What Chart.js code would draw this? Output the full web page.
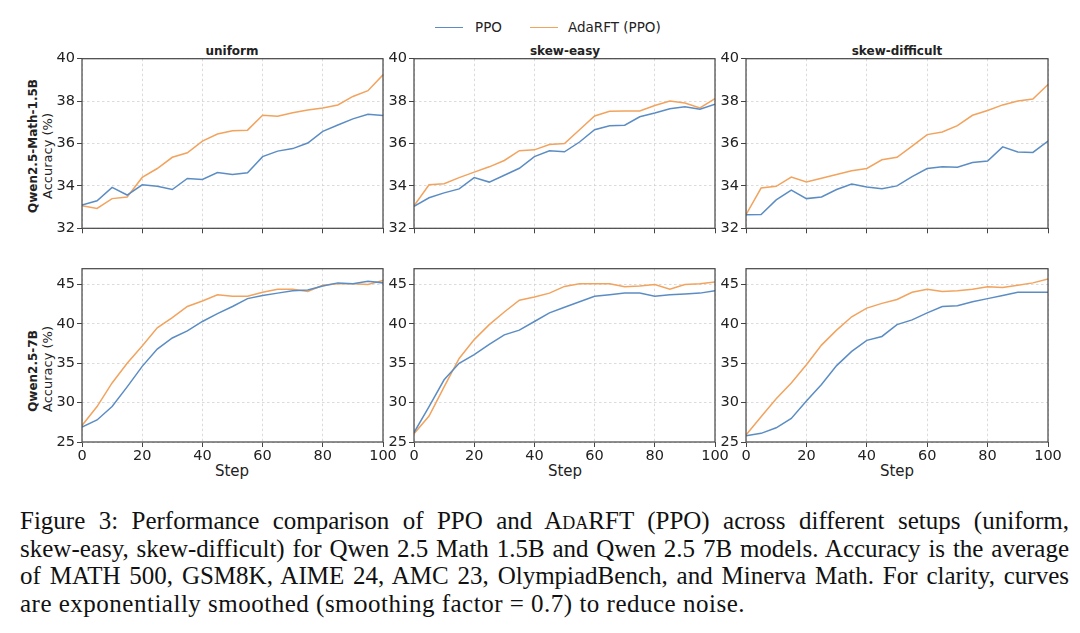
<!DOCTYPE html>
<html>
<head>
<meta charset="utf-8">
<script src="https://cdn.jsdelivr.net/npm/chart.js@4.4.1/dist/chart.umd.min.js"></script>
<style>
  body { margin: 0; width: 1080px; height: 633px; background: #fff; position: relative; overflow: hidden;
         font-family: "DejaVu Sans", sans-serif; color: #222; }
  canvas { position: absolute; }
  .lbl { position: absolute; white-space: nowrap; transform: translate(-50%, -50%); }
  .rot { transform: translate(-50%, -50%) rotate(-90deg); }
  .ttl { font-weight: bold; font-size: 12px; }
  .legend { position: absolute; top: 18px; left: 435px; font-size: 13.5px; height: 18px; }
  .legend span { position: absolute; top: 0; line-height: 18px; white-space: nowrap; }
  .legend i { position: absolute; top: 9px; width: 28px; border-top: 1.5px solid; }
  .caption { position: absolute; left: 20px; top: 507px; width: 1049px; font-family: "Liberation Serif", serif;
             font-size: 25px; line-height: 27.6px; color: #111; }
  .caption div { white-space: nowrap; }
  .caption .j { text-align: justify; text-align-last: justify; word-spacing: -2.6px; }
  .caption .last { letter-spacing: 0.5px; }
  .sc { font-variant: small-caps; }
</style>
</head>
<body>

<div class="legend">
  <i style="left:0; border-color:#5b8dc4"></i><span style="left:40px">PPO</span>
  <i style="left:95px; border-color:#f2a35e"></i><span style="left:133px">AdaRFT (PPO)</span>
</div>

<div class="lbl ttl" style="left:232px; top:51px">uniform</div>
<div class="lbl ttl" style="left:565px; top:51px">skew-easy</div>
<div class="lbl ttl" style="left:897px; top:51px">skew-difficult</div>

<div class="lbl rot ttl" style="left:33px; top:146px">Qwen2.5-Math-1.5B</div>
<div class="lbl rot" style="left:47px; top:156px; font-size:13px">Accuracy (%)</div>
<div class="lbl rot ttl" style="left:33px; top:371px">Qwen2.5-7B</div>
<div class="lbl rot" style="left:47px; top:369px; font-size:13px">Accuracy (%)</div>

<div class="lbl" style="left:232px; top:471px; font-size:15px">Step</div>
<div class="lbl" style="left:565px; top:471px; font-size:15px">Step</div>
<div class="lbl" style="left:897px; top:471px; font-size:15px">Step</div>

<div class="caption">
  <div class="j">Figure 3: Performance comparison of PPO and A<span class="sc">da</span>RFT (PPO) across different setups (uniform,</div>
  <div class="j">skew-easy, skew-difficult) for Qwen 2.5 Math 1.5B and Qwen 2.5 7B models. Accuracy is the average</div>
  <div class="j">of MATH 500, GSM8K, AIME 24, AMC 23, OlympiadBench, and Minerva Math. For clarity, curves</div>
  <div class="last">are exponentially smoothed (smoothing factor = 0.7) to reduce noise.</div>
</div>

<script>
const steps = [0, 5, 10, 15, 20, 25, 30, 35, 40, 45, 50, 55, 60, 65, 70, 75, 80, 85, 90, 95, 100];
const xTicks = [0, 20, 40, 60, 80, 100];
const yTicksMath = [32, 34, 36, 38, 40];
const yTicks7b = [25, 30, 35, 40, 45];

// Qwen2.5-Math-1.5B
const uniformMathPpo = [33.1, 33.3, 33.93, 33.57, 34.05, 33.98, 33.83, 34.35, 34.3, 34.63, 34.54, 34.62, 35.38, 35.64, 35.76, 36.02, 36.57, 36.87, 37.16, 37.38, 37.32];
const uniformMathAda = [33.06, 32.94, 33.4, 33.48, 34.4, 34.82, 35.35, 35.56, 36.11, 36.45, 36.6, 36.63, 37.33, 37.29, 37.45, 37.58, 37.67, 37.82, 38.22, 38.49, 39.24];
const easyMathPpo = [33.03, 33.44, 33.67, 33.86, 34.39, 34.18, 34.5, 34.83, 35.38, 35.66, 35.61, 36.07, 36.65, 36.84, 36.86, 37.26, 37.44, 37.64, 37.73, 37.62, 37.85];
const easyMathAda = [33.06, 34.05, 34.1, 34.39, 34.65, 34.9, 35.2, 35.66, 35.7, 35.95, 36.0, 36.65, 37.3, 37.52, 37.53, 37.53, 37.79, 38.0, 37.91, 37.68, 38.12];
const hardMathPpo = [32.64, 32.65, 33.34, 33.8, 33.4, 33.48, 33.83, 34.09, 33.95, 33.87, 34.0, 34.44, 34.82, 34.9, 34.88, 35.1, 35.17, 35.84, 35.6, 35.58, 36.11];
const hardMathAda = [32.64, 33.9, 33.98, 34.42, 34.18, 34.36, 34.54, 34.71, 34.82, 35.23, 35.35, 35.88, 36.42, 36.54, 36.84, 37.33, 37.56, 37.82, 38.0, 38.1, 38.78];

// Qwen2.5-7B
const uniform7bPpo = [26.9, 27.8, 29.5, 32.0, 34.6, 36.8, 38.2, 39.1, 40.3, 41.3, 42.2, 43.2, 43.6, 43.9, 44.2, 44.3, 44.8, 45.2, 45.1, 45.4, 45.2];
const uniform7bAda = [27.1, 29.5, 32.5, 35.0, 37.2, 39.5, 40.8, 42.2, 42.9, 43.7, 43.5, 43.5, 44.0, 44.4, 44.4, 44.1, 44.9, 45.1, 45.1, 45.0, 45.5];
const easy7bPpo = [26.2, 29.5, 32.9, 35.0, 36.1, 37.4, 38.6, 39.2, 40.3, 41.4, 42.1, 42.8, 43.5, 43.7, 43.9, 43.9, 43.5, 43.7, 43.8, 43.9, 44.2];
const easy7bAda = [26.05, 28.3, 32.0, 35.6, 38.0, 39.9, 41.5, 43.0, 43.4, 43.9, 44.75, 45.1, 45.1, 45.1, 44.7, 44.8, 45.0, 44.4, 45.0, 45.1, 45.3];
const hard7bPpo = [25.8, 26.1, 26.8, 28.0, 30.2, 32.3, 34.7, 36.5, 37.9, 38.4, 39.9, 40.5, 41.4, 42.2, 42.3, 42.8, 43.2, 43.6, 44.0, 44.0, 44.0];
const hard7bAda = [25.9, 28.2, 30.5, 32.5, 34.8, 37.3, 39.2, 40.9, 42.0, 42.6, 43.1, 44.0, 44.4, 44.1, 44.2, 44.4, 44.7, 44.6, 44.9, 45.2, 45.7];

const PPO_COLOR = '#5b8dc4';
const ADA_COLOR = '#f2a35e';
const AXIS_COLOR = '#444';

const PAD_TOP = 10;
const PAD_RIGHT = 18;

// plot areas in page pixels: left, right, top, bottom
const cols = [[82, 383], [414, 715], [746, 1048]];
const rows = [[58, 233], [268, 442]];

const panels = [
    { col: 0, row: 0, ppo: uniformMathPpo, ada: uniformMathAda, yMin: 32, yMax: 40, yTicks: yTicksMath },
    { col: 1, row: 0, ppo: easyMathPpo, ada: easyMathAda, yMin: 32, yMax: 40, yTicks: yTicksMath },
    { col: 2, row: 0, ppo: hardMathPpo, ada: hardMathAda, yMin: 32, yMax: 40, yTicks: yTicksMath },
    { col: 0, row: 1, ppo: uniform7bPpo, ada: uniform7bAda, yMin: 25, yMax: 47, yTicks: yTicks7b },
    { col: 1, row: 1, ppo: easy7bPpo, ada: easy7bAda, yMin: 25, yMax: 47, yTicks: yTicks7b },
    { col: 2, row: 1, ppo: hard7bPpo, ada: hard7bAda, yMin: 25, yMax: 47, yTicks: yTicks7b }
];

const framePlugin = {
    id: 'frame',
    afterDatasetsDraw(chart) {
        const { ctx, chartArea: a } = chart;
        ctx.save();
        ctx.strokeStyle = AXIS_COLOR;
        ctx.lineWidth = 1.2;
        ctx.strokeRect(a.left, a.top, a.right - a.left, a.bottom - a.top);
        ctx.restore();
    }
};

panels.forEach(p => drawPanel(p));

function toPoints(values) {
    return steps.map((s, i) => ({ x: s, y: values[i] }));
}

function drawPanel(p) {
    const [left, right] = cols[p.col];
    const [top, bottom] = rows[p.row];
    const yW = p.col == 0 ? 50 : 40;
    const xH = p.row == 0 ? 6 : 24;
    const showX = p.row == 1;

    const canvas = document.createElement('canvas');
    const w = yW + (right - left) + PAD_RIGHT;
    const h = PAD_TOP + (bottom - top) + xH;
    canvas.width = w;
    canvas.height = h;
    canvas.style.width = w + 'px';
    canvas.style.height = h + 'px';
    canvas.style.left = (left - yW) + 'px';
    canvas.style.top = (top - PAD_TOP) + 'px';
    document.body.appendChild(canvas);

    const tickFont = { family: 'DejaVu Sans', size: 14.5 };

    new Chart(canvas, {
        type: 'line',
        data: {
            datasets: [
                { label: 'PPO', data: toPoints(p.ppo), borderColor: PPO_COLOR, backgroundColor: PPO_COLOR },
                { label: 'AdaRFT (PPO)', data: toPoints(p.ada), borderColor: ADA_COLOR, backgroundColor: ADA_COLOR }
            ]
        },
        options: {
            responsive: false,
            animation: false,
            devicePixelRatio: 1,
            layout: { padding: { top: PAD_TOP, right: PAD_RIGHT, left: 0, bottom: 0 } },
            elements: {
                line: { borderWidth: 1.5, tension: 0 },
                point: { radius: 0 }
            },
            plugins: {
                legend: { display: false },
                tooltip: { enabled: false }
            },
            scales: {
                x: {
                    type: 'linear',
                    min: 0,
                    max: 100,
                    afterBuildTicks: scale => { scale.ticks = xTicks.map(v => ({ value: v })); },
                    afterFit: scale => { scale.height = xH; },
                    ticks: { display: showX, font: tickFont, color: '#222', padding: 1, maxRotation: 0, autoSkip: false },
                    grid: { color: '#d2d2d2', lineWidth: 0.8, tickColor: AXIS_COLOR, tickLength: 5, tickWidth: 1 },
                    border: { display: false, dash: [2.5, 2.5] }
                },
                y: {
                    min: p.yMin,
                    max: p.yMax,
                    afterBuildTicks: scale => { scale.ticks = p.yTicks.map(v => ({ value: v })); },
                    afterFit: scale => { scale.width = yW; },
                    ticks: { font: tickFont, color: '#222', padding: 2 },
                    grid: { color: '#d2d2d2', lineWidth: 0.8, tickColor: AXIS_COLOR, tickLength: 5, tickWidth: 1 },
                    border: { display: false, dash: [2.5, 2.5] }
                }
            }
        },
        plugins: [framePlugin]
    });
}
</script>
</body>
</html>
